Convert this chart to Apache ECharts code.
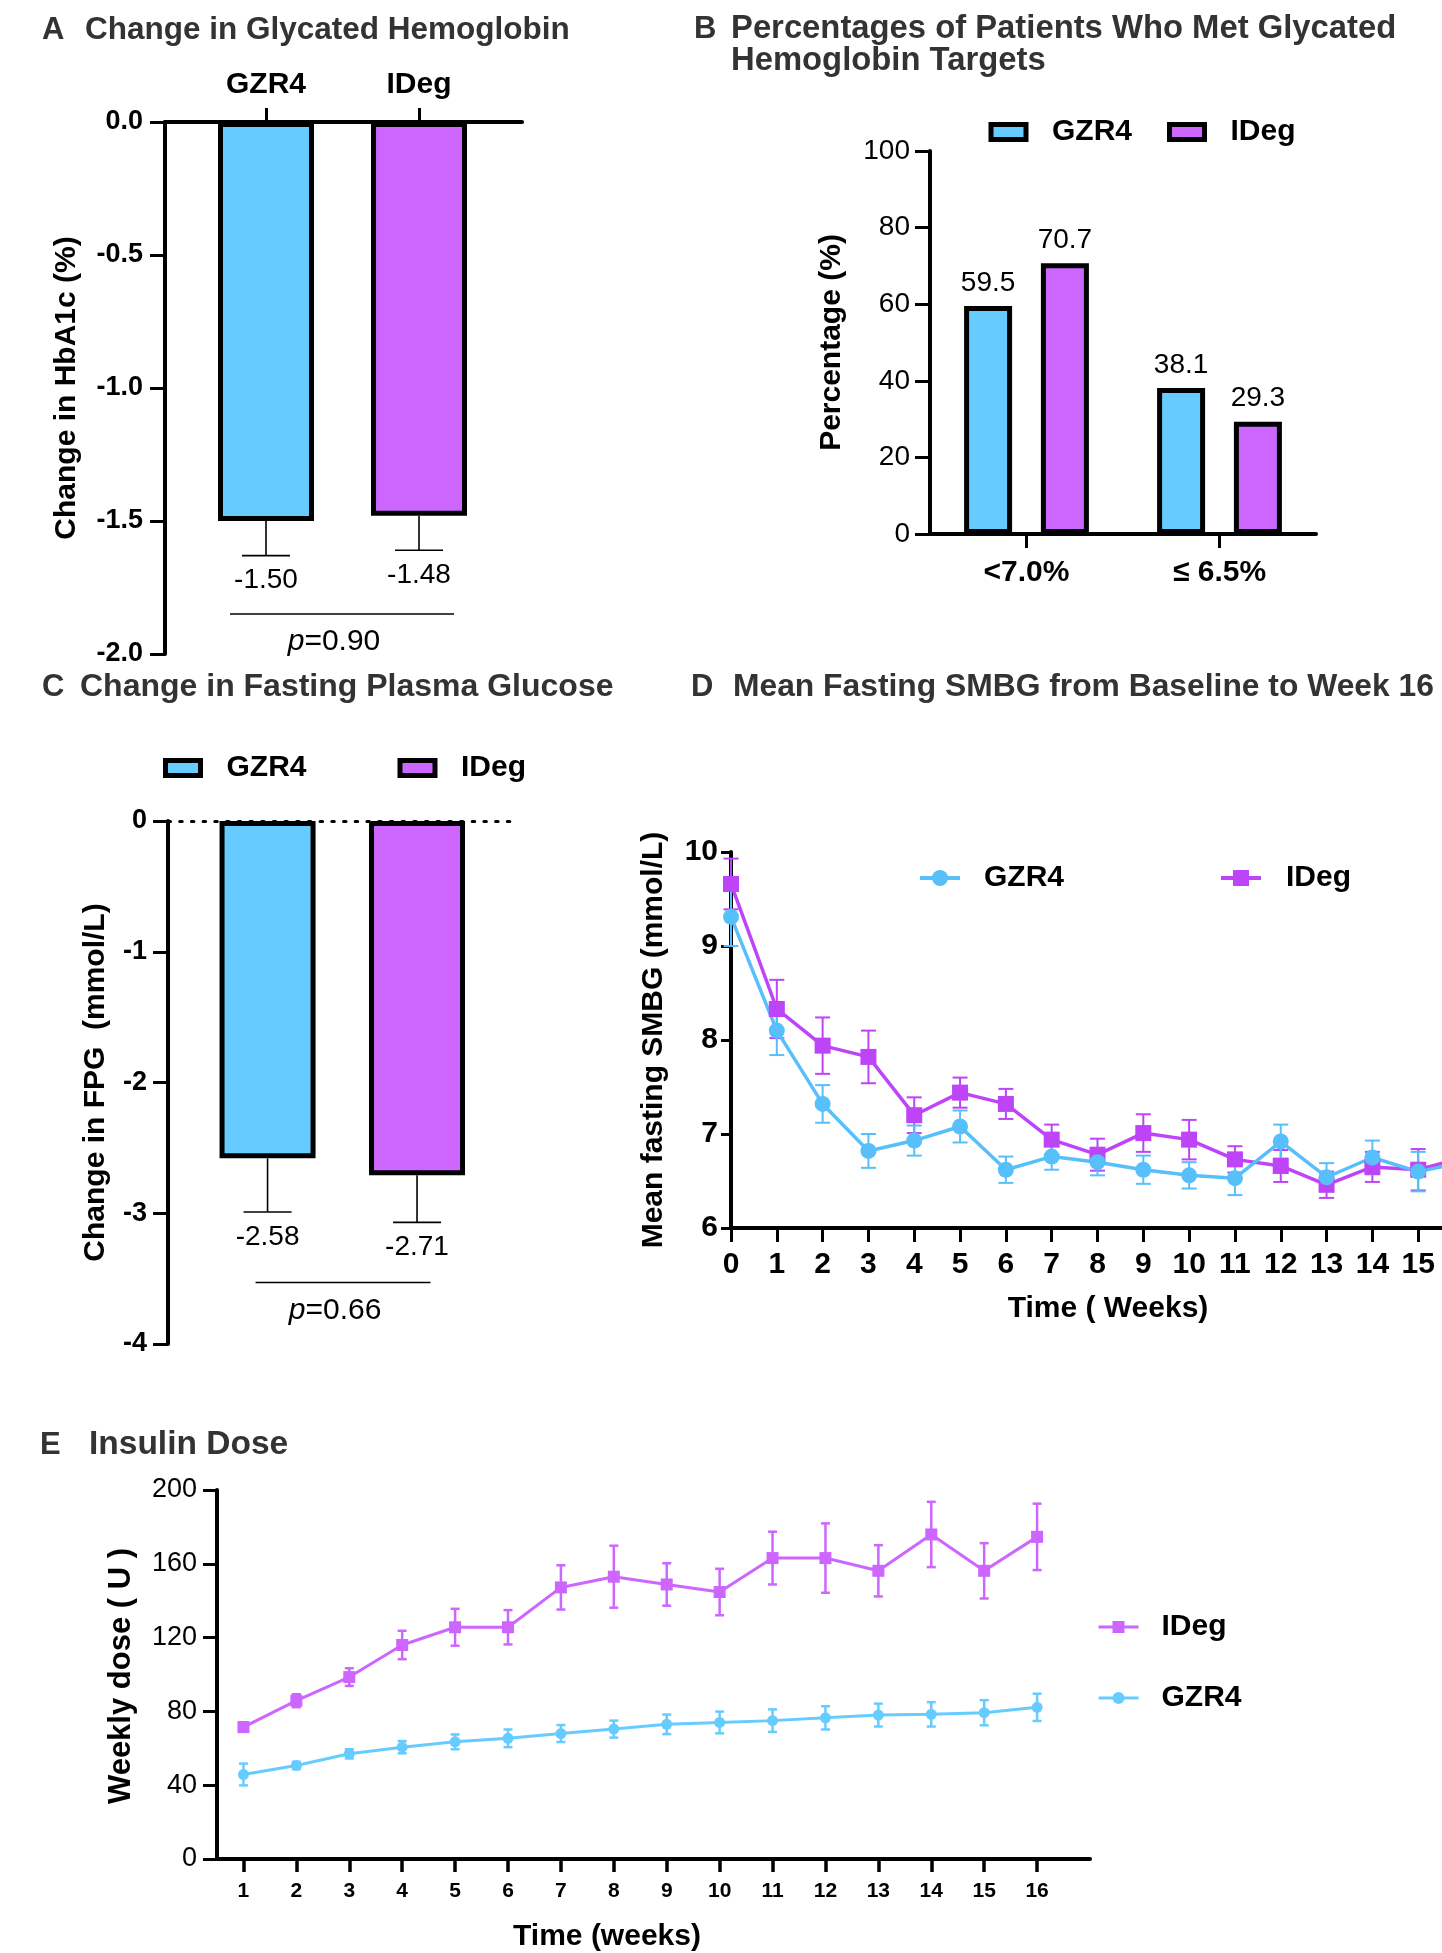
<!DOCTYPE html>
<html><head><meta charset="utf-8">
<script src="https://cdn.jsdelivr.net/npm/echarts@6/dist/echarts.min.js"></script>
<style>html,body{margin:0;padding:0;background:#fff;overflow:hidden}#c{width:1442px;height:1953px}</style>
</head><body><div id="c"></div>
<script>
// ---------- data ----------
const groups = ['GZR4', 'IDeg'];
// Panel A
const hba1cChange = [-1.50, -1.48];
const hba1cSE = [0.13, 0.13];
const hba1cP = '0.90';
// Panel B
const targetCats = ['<7.0%', '≤ 6.5%'];
const targetGZR4 = [59.5, 38.1];
const targetIDeg = [70.7, 29.3];
// Panel C
const fpgChange = [-2.58, -2.71];
const fpgSE = [0.41, 0.36];
const fpgP = '0.66';
// Panel D
const smbgWeeks = [0, 1, 2, 3, 4, 5, 6, 7, 8, 9, 10, 11, 12, 13, 14, 15, 16];
const smbgGZR4 = [9.31, 8.10, 7.32, 6.82, 6.93, 7.08, 6.62, 6.76, 6.70, 6.62, 6.56, 6.53, 6.92, 6.54, 6.75, 6.60, 6.70];
const smbgGZR4SE = [0.31, 0.26, 0.20, 0.18, 0.16, 0.17, 0.14, 0.14, 0.14, 0.15, 0.14, 0.18, 0.18, 0.15, 0.18, 0.21, 0.20];
const smbgIDeg = [9.66, 8.33, 7.94, 7.82, 7.20, 7.44, 7.32, 6.94, 6.78, 7.01, 6.94, 6.73, 6.66, 6.46, 6.65, 6.62, 6.75];
const smbgIDegSE = [0.27, 0.31, 0.30, 0.28, 0.19, 0.16, 0.16, 0.16, 0.17, 0.20, 0.21, 0.14, 0.17, 0.14, 0.16, 0.22, 0.20];
// Panel E
const doseWeeks = [1, 2, 3, 4, 5, 6, 7, 8, 9, 10, 11, 12, 13, 14, 15, 16];
const doseIDeg = [71.5, 85.8, 98.6, 116.0, 125.6, 125.6, 147.2, 153.0, 148.8, 144.7, 163.1, 163.1, 156.2, 175.9, 156.2, 174.6];
const doseIDegSE = [2.5, 3.5, 4.8, 7.7, 10.0, 9.3, 12.0, 16.8, 11.5, 12.6, 14.3, 18.8, 13.9, 17.7, 15.0, 18.0];
const doseGZR4 = [45.8, 50.7, 57.0, 60.6, 63.5, 65.4, 68.0, 70.4, 73.0, 74.0, 75.0, 76.5, 78.0, 78.4, 79.3, 82.2];
const doseGZR4SE = [5.9, 2.0, 2.5, 3.3, 4.0, 4.8, 4.6, 4.6, 5.3, 5.9, 6.1, 6.3, 6.2, 6.6, 6.8, 7.4];

// ---------- style ----------
const FF = '"Liberation Sans", Arial, Helvetica, "Noto Sans CJK SC", sans-serif';
const BAR_G = '#66CCFF', BAR_I = '#CC66FF';
const D_G = '#57BFFA', D_I = '#BD45F7';
const E_G = '#66CCFF', E_I = '#CC66FF';
const TITLE_C = '#333333';

function axLine(w, extra) { return {show: true, onZero: false, lineStyle: Object.assign({color: '#000', width: w}, extra || {})}; }
function axTick(len, w, extra) { return Object.assign({show: true, length: len, lineStyle: {color: '#000', width: w}}, extra || {}); }
function lab(size, bold, margin, extra) { return Object.assign({fontSize: size, fontWeight: bold ? 'bold' : 'normal', color: '#000', fontFamily: FF, margin: margin}, extra || {}); }
const noSplit = {show: false};
function yName(name, gap, size) { return {name: name, nameLocation: 'middle', nameGap: gap, nameTextStyle: {fontSize: size || 30, fontWeight: 'bold', color: '#000', fontFamily: FF}}; }

function errorBars(capW, lw, color) {
  return function (params, api) {
    const x = api.value(0), m = api.value(1), e = api.value(2);
    const a = api.coord([x, m + e]), b = api.coord([x, m - e]);
    const st = {stroke: color, lineWidth: lw, fill: null};
    return {type: 'group', children: [
      {type: 'line', shape: {x1: a[0], y1: a[1], x2: b[0], y2: b[1]}, style: st},
      {type: 'line', shape: {x1: a[0] - capW / 2, y1: a[1], x2: a[0] + capW / 2, y2: a[1]}, style: st},
      {type: 'line', shape: {x1: b[0] - capW / 2, y1: b[1], x2: b[0] + capW / 2, y2: b[1]}, style: st}
    ]};
  };
}
function downErr(capW) {
  return function (params, api) {
    const x = api.value(0), m = api.value(1), e = api.value(2);
    const a = api.coord([x, m]), b = api.coord([x, m - e]);
    const st = {stroke: '#000', lineWidth: 1.6, fill: null};
    return {type: 'group', children: [
      {type: 'line', shape: {x1: a[0], y1: a[1], x2: b[0], y2: b[1]}, style: st},
      {type: 'line', shape: {x1: b[0] - capW / 2, y1: b[1], x2: b[0] + capW / 2, y2: b[1]}, style: st},
      {type: 'text', x: b[0], y: b[1] + 25, style: {text: m.toFixed(2), align: 'center', verticalAlign: 'middle', font: '28px ' + FF, fill: '#000'}}
    ]};
  };
}
function pBracket(p, extL, extR) {
  return function (params, api) {
    const y = api.value(2);
    const a = api.coord([api.value(0), y]), b = api.coord([api.value(1), y]);
    const x1 = a[0] + extL, x2 = b[0] + extR, mid = (x1 + x2) / 2;
    return {type: 'group', children: [
      {type: 'line', shape: {x1: x1, y1: a[1], x2: x2, y2: a[1]}, style: {stroke: '#000', lineWidth: 1.5}},
      {type: 'text', x: mid - 8, y: a[1] + 28, style: {text: '{i|p}=' + p, rich: {i: {font: 'italic 30px ' + FF, fill: '#000'}}, font: '30px ' + FF, align: 'center', verticalAlign: 'middle', fill: '#000'}}
    ]};
  };
}
function L(name, left, cy, o) {
  const l = {data: [name], left: left, top: cy - 15, padding: 0, icon: o.icon, itemWidth: o.w, itemHeight: o.h,
    selectedMode: false, formatter: function (n) { return n.split('_')[0]; },
    textStyle: {fontSize: 30, fontWeight: 'bold', color: '#000', fontFamily: FF, padding: [0, 0, 0, o.pad]}};
  if (o.box) l.itemStyle = {borderColor: '#000', borderWidth: 5};
  else { l.itemStyle = {borderWidth: 0}; l.lineStyle = {width: o.lw}; }
  return l;
}
function T(text, x, y, size, align, extra) {
  return {type: 'text', x: x, y: y, silent: true, style: Object.assign({text: text, font: 'bold ' + size + 'px ' + FF, fill: TITLE_C, align: align || 'left', verticalAlign: 'middle'}, extra || {})};
}
function G(o) { return Object.assign({outerBoundsMode: 'none', containLabel: false}, o); }

const option = {
  animation: false,
  backgroundColor: '#fff',
  textStyle: {fontFamily: FF},
  graphic: [
    T('A', 42, 30, 31), T('Change in Glycated Hemoglobin', 85, 30, 31.5),
    T('B', 694, 29, 31), T('Percentages of Patients Who Met Glycated\nHemoglobin Targets', 731, 13, 32.8, 'left', {verticalAlign: 'top', lineHeight: 32}),
    T('C', 42, 687, 31), T('Change in Fasting Plasma Glucose', 80, 687, 32),
    T('D', 691, 687, 31), T('Mean Fasting SMBG from Baseline to Week 16', 733, 687, 31.8),
    T('E', 40, 1445, 31), T('Insulin Dose', 89, 1445, 33.5),
    T('Time ( Weeks)', 1108, 1309, 30, 'center', {fill: '#000'}),
    T('Time (weeks)', 607, 1937, 30, 'center', {fill: '#000'}),
    {type: 'text', x: 121, y: 1676, rotation: Math.PI / 2, silent: true,
      style: {text: 'Weekly dose ( U )', font: 'bold 31px ' + FF, fill: '#000', align: 'center', verticalAlign: 'middle'}}
  ],
  legend: [
    L('GZR4_B', 988.5, 132, {icon: 'rect', w: 35, h: 15, pad: 21, box: true}),
    L('IDeg_B', 1167, 132, {icon: 'rect', w: 35, h: 15, pad: 21, box: true}),
    L('GZR4_C', 163, 768, {icon: 'rect', w: 35, h: 15, pad: 21, box: true}),
    L('IDeg_C', 397.5, 768, {icon: 'rect', w: 35, h: 15, pad: 21, box: true}),
    L('GZR4_D', 918, 878, {w: 40, h: 20, pad: 19, lw: 4}),
    L('IDeg_D', 1219, 878, {w: 40, h: 20, pad: 20, lw: 4}),
    L('IDeg_E', 1097, 1627, {w: 40, h: 15, pad: 18, lw: 3}),
    L('GZR4_E', 1097, 1698, {w: 40, h: 15, pad: 18, lw: 3})
  ],
  grid: [
    G({left: 165, top: 122, width: 357, height: 532}),
    G({left: 930, top: 151, width: 386, height: 383}),
    G({left: 168, top: 821, width: 342, height: 523}),
    G({left: 731, top: 852, width: 733, height: 376}),
    G({left: 217, top: 1490, width: 873, height: 369})
  ],
  xAxis: [
    {gridIndex: 0, type: 'value', min: 0.34, max: 2.673, position: 'top', axisLine: axLine(4),
      axisTick: axTick(14, 3, {customValues: [1, 2]}),
      axisLabel: lab(30, true, 22, {customValues: [1, 2], formatter: function (v) { return groups[Math.round(v) - 1]; }}),
      splitLine: noSplit},
    {gridIndex: 1, type: 'category', data: targetCats, axisLine: axLine(4),
      axisTick: axTick(14, 3, {alignWithLabel: true}), axisLabel: lab(30, true, 24), splitLine: noSplit},
    {gridIndex: 2, type: 'value', min: 0.334, max: 2.622, position: 'top',
      axisLine: axLine(3, {type: [2.5, 9.2]}), axisTick: {show: false}, axisLabel: {show: false}, splitLine: noSplit},
    {gridIndex: 3, type: 'value', min: 0, max: 16, interval: 1, axisLine: axLine(4),
      axisTick: axTick(14, 3), axisLabel: lab(30, true, 22), splitLine: noSplit},
    {gridIndex: 4, type: 'value', min: 0.5, max: 17, axisLine: axLine(4),
      axisTick: axTick(13, 3.5, {customValues: doseWeeks}), axisLabel: lab(21, true, 22, {customValues: doseWeeks}), splitLine: noSplit}
  ],
  yAxis: [
    Object.assign({gridIndex: 0, type: 'value', min: -2, max: 0, interval: 0.5, axisLine: axLine(4),
      axisTick: axTick(15, 3), axisLabel: lab(27, true, 22, {formatter: function (v) { return v.toFixed(1); }}), splitLine: noSplit},
      yName('Change in HbA1c (%)', 83)),
    Object.assign({gridIndex: 1, type: 'value', min: 0, max: 100, interval: 20, axisLine: axLine(4),
      axisTick: axTick(15, 3), axisLabel: lab(28, false, 20), splitLine: noSplit},
      yName('Percentage (%)', 83)),
    Object.assign({gridIndex: 2, type: 'value', min: -4, max: 0, interval: 1, axisLine: axLine(4),
      axisTick: axTick(15, 3), axisLabel: lab(27, true, 21), splitLine: noSplit},
      yName('Change in FPG  (mmol/L)', 57)),
    Object.assign({gridIndex: 3, type: 'value', min: 6, max: 10, interval: 1, axisLine: axLine(4),
      axisTick: axTick(10, 3), axisLabel: lab(30, true, 13), splitLine: noSplit},
      yName('Mean fasting SMBG (mmol/L)', 62)),
    {gridIndex: 4, type: 'value', min: 0, max: 200, interval: 40, axisLine: axLine(4),
      axisTick: axTick(14, 3), axisLabel: lab(27, false, 20), splitLine: noSplit}
  ],
  series: [
    // Panel A
    {type: 'bar', name: 'A_bars', xAxisIndex: 0, yAxisIndex: 0, barWidth: 96, silent: true,
      itemStyle: {borderColor: '#000', borderWidth: 5},
      data: groups.map(function (g, i) { return {value: [i + 1, hba1cChange[i]], itemStyle: {color: i ? BAR_I : BAR_G}}; })},
    {type: 'custom', name: 'A_err', xAxisIndex: 0, yAxisIndex: 0, silent: true, z: 3, renderItem: downErr(48),
      data: groups.map(function (g, i) { return [i + 1, hba1cChange[i], hba1cSE[i]]; })},
    {type: 'custom', name: 'A_p', xAxisIndex: 0, yAxisIndex: 0, silent: true, z: 3, renderItem: pBracket(hba1cP, -36, 35),
      data: [[1, 2, -1.85]]},
    // Panel B
    {type: 'bar', name: 'GZR4_B', xAxisIndex: 1, yAxisIndex: 1, barWidth: 48, barGap: '60%', silent: true,
      itemStyle: {color: BAR_G, borderColor: '#000', borderWidth: 5},
      label: {show: true, position: 'top', distance: 9, fontSize: 28, color: '#000', fontFamily: FF},
      data: targetGZR4},
    {type: 'bar', name: 'IDeg_B', xAxisIndex: 1, yAxisIndex: 1, barWidth: 48, barGap: '60%', silent: true,
      itemStyle: {color: BAR_I, borderColor: '#000', borderWidth: 5},
      label: {show: true, position: 'top', distance: 9, fontSize: 28, color: '#000', fontFamily: FF},
      data: targetIDeg},
    // Panel C
    {type: 'bar', name: 'GZR4_C', xAxisIndex: 2, yAxisIndex: 2, barWidth: 96, barGap: '-100%', silent: true,
      itemStyle: {color: BAR_G, borderColor: '#000', borderWidth: 5}, data: [[1, fpgChange[0]]]},
    {type: 'bar', name: 'IDeg_C', xAxisIndex: 2, yAxisIndex: 2, barWidth: 96, barGap: '-100%', silent: true,
      itemStyle: {color: BAR_I, borderColor: '#000', borderWidth: 5}, data: [[2, fpgChange[1]]]},
    {type: 'custom', name: 'C_err', xAxisIndex: 2, yAxisIndex: 2, silent: true, z: 3, renderItem: downErr(48),
      data: groups.map(function (g, i) { return [i + 1, fpgChange[i], fpgSE[i]]; })},
    {type: 'custom', name: 'C_p', xAxisIndex: 2, yAxisIndex: 2, silent: true, z: 3, renderItem: pBracket(fpgP, -12, 13.5),
      data: [[1, 2, -3.53]]},
    // Panel D
    {type: 'custom', name: 'IDeg_D_err', xAxisIndex: 3, yAxisIndex: 3, silent: true, renderItem: errorBars(15, 2, D_I),
      data: smbgWeeks.map(function (w, i) { return [w, smbgIDeg[i], smbgIDegSE[i]]; })},
    {type: 'line', name: 'IDeg_D', xAxisIndex: 3, yAxisIndex: 3, silent: true, symbol: 'rect', symbolSize: 16,
      lineStyle: {width: 3.5, color: D_I}, itemStyle: {color: D_I, borderWidth: 0},
      data: smbgWeeks.map(function (w, i) { return [w, smbgIDeg[i]]; })},
    {type: 'custom', name: 'GZR4_D_err', xAxisIndex: 3, yAxisIndex: 3, silent: true, renderItem: errorBars(15, 2, D_G),
      data: smbgWeeks.map(function (w, i) { return [w, smbgGZR4[i], smbgGZR4SE[i]]; })},
    {type: 'line', name: 'GZR4_D', xAxisIndex: 3, yAxisIndex: 3, silent: true, symbol: 'circle', symbolSize: 16,
      lineStyle: {width: 3.5, color: D_G}, itemStyle: {color: D_G, borderWidth: 0},
      data: smbgWeeks.map(function (w, i) { return [w, smbgGZR4[i]]; })},
    // Panel E
    {type: 'custom', name: 'IDeg_E_err', xAxisIndex: 4, yAxisIndex: 4, silent: true, renderItem: errorBars(9, 2.5, E_I),
      data: doseWeeks.map(function (w, i) { return [w, doseIDeg[i], doseIDegSE[i]]; })},
    {type: 'line', name: 'IDeg_E', xAxisIndex: 4, yAxisIndex: 4, silent: true, symbol: 'rect', symbolSize: 12,
      lineStyle: {width: 3, color: E_I}, itemStyle: {color: E_I, borderWidth: 0},
      data: doseWeeks.map(function (w, i) { return [w, doseIDeg[i]]; })},
    {type: 'custom', name: 'GZR4_E_err', xAxisIndex: 4, yAxisIndex: 4, silent: true, renderItem: errorBars(9, 2.5, E_G),
      data: doseWeeks.map(function (w, i) { return [w, doseGZR4[i], doseGZR4SE[i]]; })},
    {type: 'line', name: 'GZR4_E', xAxisIndex: 4, yAxisIndex: 4, silent: true, symbol: 'circle', symbolSize: 11,
      lineStyle: {width: 3, color: E_G}, itemStyle: {color: E_G, borderWidth: 0},
      data: doseWeeks.map(function (w, i) { return [w, doseGZR4[i]]; })}
  ]
};
const chart = echarts.init(document.getElementById('c'), null, {renderer: 'canvas'});
chart.setOption(option);
</script>
</body></html>
